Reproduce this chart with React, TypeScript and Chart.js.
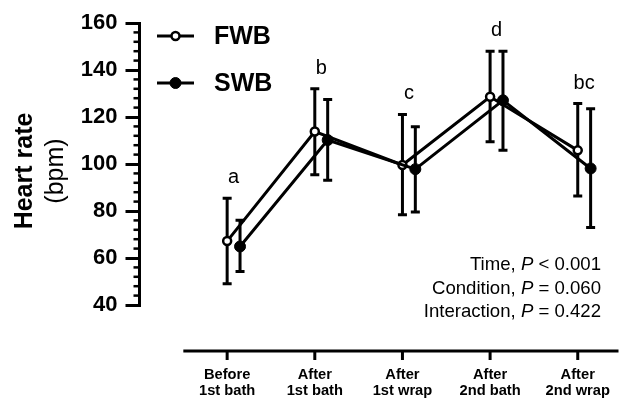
import React, { useEffect, useRef } from 'react';
import { Chart, registerables } from 'chart.js';

Chart.register(...registerables);

// ---------- data ----------
const CATEGORY_LINES: string[][] = [
  ['Before', '1st bath'],
  ['After', '1st bath'],
  ['After', '1st wrap'],
  ['After', '2nd bath'],
  ['After', '2nd wrap'],
];
const FWB_MEAN = [67.2, 113.8, 99.6, 128.6, 105.8];
const FWB_UPPER = [85.4, 132.0, 121.1, 148.0, 125.7];
const FWB_LOWER = [49.0, 95.4, 78.4, 109.5, 86.4];
const SWB_MEAN = [64.9, 110.2, 97.8, 127.1, 98.1];
const SWB_UPPER = [76.1, 127.5, 115.9, 148.0, 123.5];
const SWB_LOWER = [54.3, 93.1, 79.6, 105.8, 73.0];
const SIG_LETTERS = ['a', 'b', 'c', 'd', 'bc'];
const SERIES_NAMES = ['FWB', 'SWB'];
const Y_MIN = 40;
const Y_MAX = 160;
const Y_STEP = 20;
const Y_MINOR_STEP = 4;
const Y_TITLE_MAIN = 'Heart rate';
const Y_TITLE_UNIT = '(bpm)';
const STAT_NAMES = ['Time', 'Condition', 'Interaction'];
const STAT_OPS = ['<', '=', '='];
const STAT_PVALUES = ['0.001', '0.060', '0.422'];

// ---------- style ----------
const FONT = '"Liberation Sans", Arial, Helvetica, sans-serif';
const DODGE = 0.147;

const annotationPlugin = {
  id: 'annotations',
  beforeDatasetsDraw(chart: any) {
    const ctx = chart.ctx as CanvasRenderingContext2D;
    const yS = chart.scales.y;
    ctx.save();
    ctx.strokeStyle = '#000';
    ctx.lineWidth = 3;
    ctx.lineCap = 'butt';
    chart.data.datasets.forEach((ds: any, d: number) => {
      const meta = chart.getDatasetMeta(d);
      meta.data.forEach((pt: any, i: number) => {
        const x = pt.x;
        const yt = yS.getPixelForValue(ds.errUpper[i]);
        const yb = yS.getPixelForValue(ds.errLower[i]);
        ctx.beginPath();
        ctx.moveTo(x, yt);
        ctx.lineTo(x, yb);
        ctx.moveTo(x - 4.5, yt);
        ctx.lineTo(x + 4.5, yt);
        ctx.moveTo(x - 4.5, yb);
        ctx.lineTo(x + 4.5, yb);
        ctx.stroke();
      });
    });
    ctx.restore();
  },
  afterDraw(chart: any) {
    const ctx = chart.ctx as CanvasRenderingContext2D;
    const yS = chart.scales.y;
    const xS = chart.scales.x;
    const area = chart.chartArea;
    ctx.save();
    ctx.fillStyle = '#000';
    ctx.strokeStyle = '#000';

    // minor y ticks
    ctx.lineWidth = 2.5;
    for (let v = Y_MIN; v <= Y_MAX; v += Y_MINOR_STEP) {
      if ((v - Y_MIN) % Y_STEP === 0) continue;
      const y = yS.getPixelForValue(v);
      ctx.beginPath();
      ctx.moveTo(area.left - 6, y);
      ctx.lineTo(area.left, y);
      ctx.stroke();
    }

    // detached x axis
    const axisY = area.bottom + 46;
    ctx.lineWidth = 3;
    ctx.beginPath();
    ctx.moveTo(xS.getPixelForValue(-0.5), axisY);
    ctx.lineTo(area.right, axisY);
    ctx.stroke();
    ctx.font = `bold 14.7px ${FONT}`;
    ctx.textAlign = 'center';
    ctx.textBaseline = 'alphabetic';
    CATEGORY_LINES.forEach((lines, i) => {
      const x = xS.getPixelForValue(i);
      ctx.beginPath();
      ctx.moveTo(x, axisY);
      ctx.lineTo(x, axisY + 9);
      ctx.stroke();
      lines.forEach((t, k) => ctx.fillText(t, x, axisY + 28 + k * 15.5));
    });

    // y title
    const midY = (area.top + area.bottom) / 2 + 7;
    ctx.save();
    ctx.translate(31.5, midY);
    ctx.rotate(-Math.PI / 2);
    ctx.font = `bold 25px ${FONT}`;
    ctx.textAlign = 'center';
    ctx.fillText(Y_TITLE_MAIN, 0, 0);
    ctx.restore();
    ctx.save();
    ctx.translate(63, midY);
    ctx.rotate(-Math.PI / 2);
    ctx.font = `25px ${FONT}`;
    ctx.textAlign = 'center';
    ctx.fillText(Y_TITLE_UNIT, 0, 0);
    ctx.restore();

    // legend
    const legendY = [36, 83];
    chart.data.datasets.forEach((ds: any, d: number) => {
      const y = legendY[d];
      ctx.lineWidth = 3;
      ctx.strokeStyle = '#000';
      ctx.beginPath();
      ctx.moveTo(157, y);
      ctx.lineTo(194, y);
      ctx.stroke();
      ctx.beginPath();
      ctx.arc(175.5, y, ds.pointRadius, 0, Math.PI * 2);
      ctx.fillStyle = ds.pointBackgroundColor;
      ctx.fill();
      ctx.lineWidth = ds.pointBorderWidth;
      ctx.stroke();
      ctx.fillStyle = '#000';
      ctx.font = `bold 25px ${FONT}`;
      ctx.textAlign = 'left';
      ctx.textBaseline = 'middle';
      ctx.fillText(SERIES_NAMES[d], 214, y + 1);
    });

    // significance letters
    ctx.font = `20px ${FONT}`;
    ctx.textAlign = 'center';
    ctx.textBaseline = 'alphabetic';
    SIG_LETTERS.forEach((t, i) => {
      const top = Math.max(FWB_UPPER[i], SWB_UPPER[i]);
      const x = xS.getPixelForValue(i + DODGE / 2);
      ctx.fillText(t, x, yS.getPixelForValue(top) - 15);
    });

    // stats
    const right = 601;
    const fs = 18.6;
    STAT_NAMES.forEach((name, i) => {
      const y = 270 + i * 23.5;
      const pre = `${name}, `;
      const post = ` ${STAT_OPS[i]} ${STAT_PVALUES[i]}`;
      ctx.font = `${fs}px ${FONT}`;
      const wPre = ctx.measureText(pre).width;
      const wPost = ctx.measureText(post).width;
      ctx.font = `italic ${fs}px ${FONT}`;
      const wP = ctx.measureText('P').width;
      let x = right - (wPre + wP + wPost);
      ctx.textAlign = 'left';
      ctx.font = `${fs}px ${FONT}`;
      ctx.fillText(pre, x, y);
      x += wPre;
      ctx.font = `italic ${fs}px ${FONT}`;
      ctx.fillText('P', x, y);
      x += wP;
      ctx.font = `${fs}px ${FONT}`;
      ctx.fillText(post, x, y);
    });
    ctx.restore();
  },
};

export default function App() {
  const ref = useRef<HTMLCanvasElement | null>(null);
  useEffect(() => {
    if (!ref.current) return;
    const chart = new Chart(ref.current, {
      type: 'line',
      data: {
        datasets: [
          {
            label: SERIES_NAMES[0],
            data: FWB_MEAN.map((v, i) => ({ x: i, y: v })),
            errUpper: FWB_UPPER,
            errLower: FWB_LOWER,
            borderColor: '#000',
            borderWidth: 3,
            pointRadius: 4,
            pointBorderWidth: 2.5,
            pointBackgroundColor: '#fff',
            pointBorderColor: '#000',
            tension: 0,
            order: 2,
          } as any,
          {
            label: SERIES_NAMES[1],
            data: SWB_MEAN.map((v, i) => ({ x: i + DODGE, y: v })),
            errUpper: SWB_UPPER,
            errLower: SWB_LOWER,
            borderColor: '#000',
            borderWidth: 3,
            pointRadius: 5.5,
            pointBorderWidth: 1,
            pointBackgroundColor: '#000',
            pointBorderColor: '#000',
            tension: 0,
            order: 1,
          } as any,
        ],
      },
      options: {
        responsive: false,
        animation: false,
        devicePixelRatio: 1,
        layout: { padding: { top: 23, bottom: 95, left: 0, right: 0 } },
        plugins: { legend: { display: false }, tooltip: { enabled: false } },
        scales: {
          x: { type: 'linear', min: -1, max: 4.465, display: false },
          y: {
            min: Y_MIN,
            max: Y_MAX,
            afterFit: (s: any) => {
              s.width = 139.5;
            },
            ticks: {
              stepSize: Y_STEP,
              color: '#000',
              padding: 8,
              font: { family: FONT, size: 22, weight: 'bold' },
            },
            grid: {
              display: true,
              drawOnChartArea: false,
              drawTicks: true,
              tickLength: 14,
              tickWidth: 3,
              tickColor: '#000',
              color: '#000',
              lineWidth: 3,
            },
            border: { display: true, width: 3, color: '#000' },
          },
        },
      } as any,
      plugins: [annotationPlugin],
    });
    return () => chart.destroy();
  }, []);
  return (
    <div style={{ position: 'absolute', left: 0, top: 0, width: 625, height: 400, background: '#fff' }}>
      <canvas ref={ref} width={625} height={400} />
    </div>
  );
}
